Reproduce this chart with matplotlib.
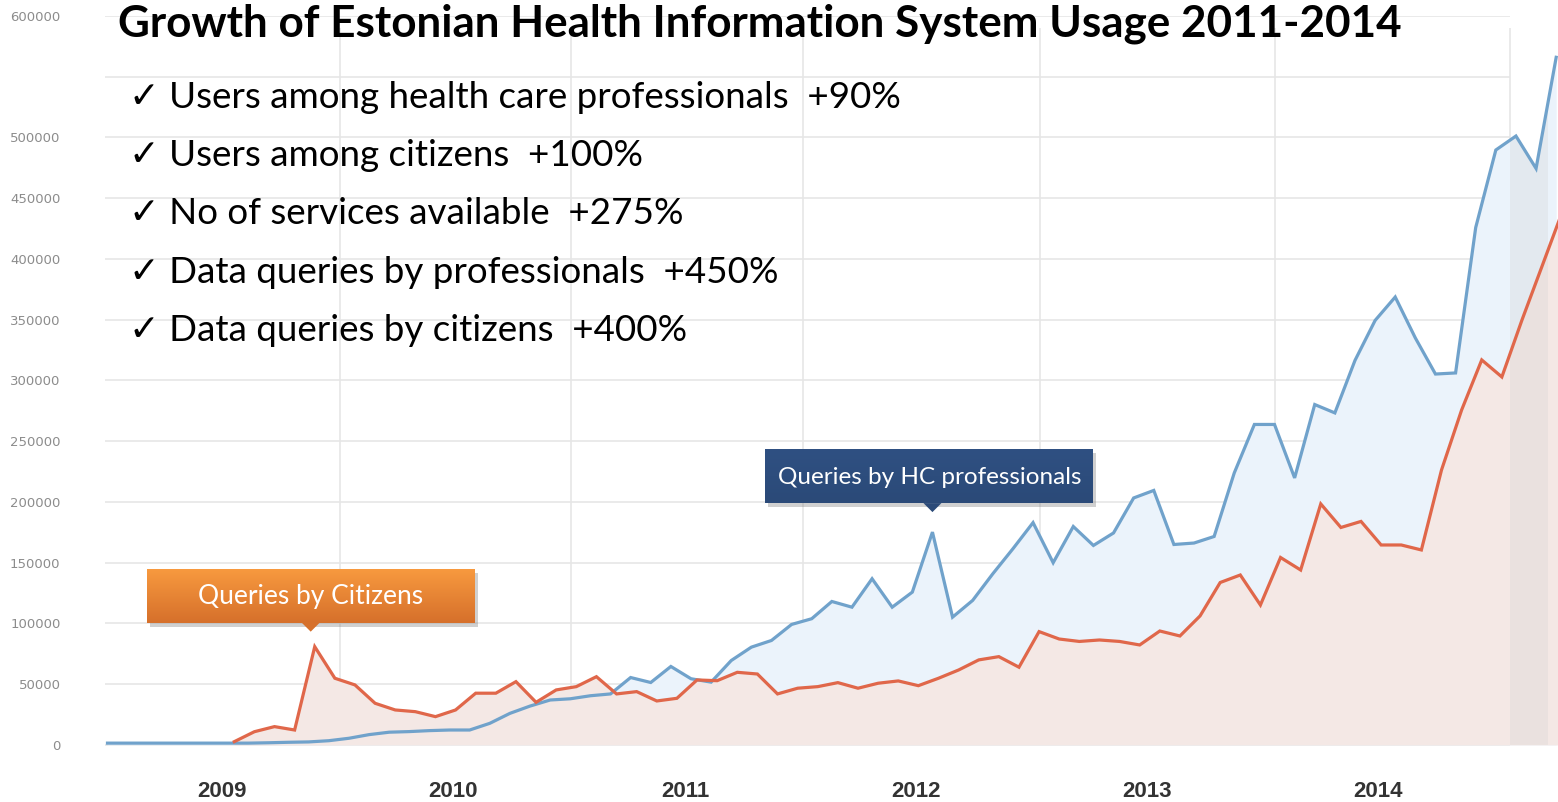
import numpy as np
import matplotlib
matplotlib.use("Agg")
import matplotlib.pyplot as plt
from matplotlib.patches import Rectangle, Polygon
from matplotlib.colors import LinearSegmentedColormap

W, H = 1558, 802

title = "Growth of Estonian Health Information System Usage 2011-2014"
bullets = [
    "Users among health care professionals  +90%",
    "Users among citizens  +100%",
    "No of services available  +275%",
    "Data queries by professionals  +450%",
    "Data queries by citizens  +400%",
]
years = ["2009", "2010", "2011", "2012", "2013", "2014"]
y_ticks = [0, 50000, 100000, 150000, 200000, 250000, 300000,
           350000, 400000, 450000, 500000, 550000, 600000]
y_labels = ["0", "50000", "100000", "150000", "200000", "250000", "300000",
            "350000", "400000", "450000", "500000", "", "600000"]

# queries by health care professionals, one value per period
prof_queries = [1500, 1500, 1500, 1500, 1500, 1500, 1500, 1500, 1800, 2200,
                2500, 3500, 5500, 8500, 10500, 11000, 11800, 12300, 12300, 17800,
                26000, 32000, 37000, 38000, 40500, 42000, 55500, 51400, 64600, 54500,
                51700, 69500, 80500, 86000, 99200, 103900, 118100, 113400, 136800, 113400,
                125800, 175200, 105200, 119000, 140900, 161500, 183000, 150000, 179800, 164200,
                174500, 203300, 209500, 165000, 166200, 171600, 223900, 263800, 263800, 219800,
                280200, 273300, 316500, 349400, 368700, 335000, 305300, 306200, 425900, 489700,
                501200, 474500, 566000]

# queries by citizens, first reported in period 6
citizen_start = 6
citizen_queries = [2700, 10900, 15100, 12300, 80900, 54900, 49400, 34300, 28800, 27400,
                   23300, 28800, 42600, 42600, 52100, 35100, 45300, 48000, 56200, 42000,
                   43900, 36200, 38400, 53500, 52900, 59800, 58400, 42000, 46700, 48000,
                   51300, 46700, 50800, 52700, 48800, 54900, 61700, 70000, 72700, 64000,
                   93300, 87200, 85200, 86400, 85200, 82300, 93800, 89700, 106200, 133700,
                   139900, 115200, 154300, 144000, 198400, 179000, 184000, 164600, 164600, 160500,
                   226300, 275700, 316900, 302900, 349800, 394200, 438700]

# where the year labels and year boundaries sit on the period axis
year_centres = [5.69, 17.17, 28.7, 40.18, 51.66, 63.15]
year_edges = [11.55, 23.03, 34.57, 46.35, 58.03, 69.7]

x_prof = np.arange(len(prof_queries))
x_cit = np.arange(citizen_start, citizen_start + len(citizen_queries)) + 0.3

fig = plt.figure(figsize=(W / 100, H / 100), dpi=100)
ax = fig.add_axes([105 / W, 53.4 / H, 1 - 105 / W, 732.6 / H])
ax.set_xlim(-0.124, 72.09)
ax.set_ylim(-3000, 600000)

for s in ax.spines.values():
    s.set_visible(False)

ax.hlines(y_ticks, -0.124, year_edges[-1], color="#e8e8e8", lw=1.3, zorder=0)
ax.vlines(year_edges, 0, 590000, color="#e6e6e6", lw=1.2, zorder=0)

blue_area = ax.fill_between(x_prof, prof_queries, color="#ebf3fb", lw=0, zorder=1)
ax.fill_between(x_cit, citizen_queries, color="#f4e8e5", lw=0, zorder=1.2)

# slightly greyed last (incomplete) period, only under the curve
band = ax.axvspan(year_edges[-1], 71.6, color="#cfcfcf", alpha=0.25, lw=0, zorder=1.5)
band.set_clip_path(blue_area.get_paths()[0], ax.transData)

ax.plot(x_prof, prof_queries, color="#70a2cb", lw=2.3, zorder=3, solid_joinstyle="miter")
ax.plot(x_cit, citizen_queries, color="#e0674a", lw=2.3, zorder=3.2, solid_joinstyle="miter")

ax.set_yticks(y_ticks, y_labels)
ax.tick_params(axis="y", length=0, pad=32, labelsize=9.5, labelcolor="#8c8c8c")
ax.set_xticks(year_centres, years)
ax.tick_params(axis="x", length=0, pad=23, labelsize=16, labelcolor="#333333")
for lab in ax.get_xticklabels():
    lab.set_fontweight("bold")
    lab.set_family("Liberation Sans")

fig.text(118 / W, 1 - 36 / H, title, fontsize=31.7, fontweight="bold",
         family="Lato", color="black", va="baseline", ha="left")

baselines = [108, 166, 224, 283, 341]
for txt, yb in zip(bullets, baselines):
    fig.text(129 / W, 1 - yb / H, "\u2713 " + txt, fontsize=26.5,
             family=["Lato", "DejaVu Sans"], color="black", va="baseline", ha="left")


def callout(x, y, text, top_col, bot_col, gap, size, dx):
    # box centred over the data point (x, y), small pointer underneath
    px, py = ax.transData.transform((x, y))
    bw, bh, tri = 328, 54, 9
    left = px + dx - bw / 2
    bottom = py + gap + tri
    shadow = Rectangle(((left + 3) / W, (bottom - 4) / H), bw / W, bh / H,
                       transform=fig.transFigure, color="#666666", alpha=0.3,
                       lw=0, zorder=2)
    fig.add_artist(shadow)
    bax = fig.add_axes([left / W, bottom / H, bw / W, bh / H], zorder=3)
    cmap = LinearSegmentedColormap.from_list("grad", [bot_col, top_col])
    bax.imshow(np.linspace(0, 1, 50).reshape(-1, 1), cmap=cmap, aspect="auto",
               origin="lower", extent=[0, 1, 0, 1])
    bax.set_xlim(0, 1)
    bax.set_ylim(0, 1)
    bax.axis("off")
    bax.text(0.5, 0.48, text, color="white", fontsize=size, family="Lato",
             ha="center", va="center")
    arrow = Polygon([((px - tri) / W, bottom / H), ((px + tri) / W, bottom / H),
                     (px / W, (bottom - tri) / H)], closed=True,
                    transform=fig.transFigure, color=bot_col, lw=0, zorder=4)
    fig.add_artist(arrow)


peak_cit = int(np.argmax(citizen_queries[:20]))
callout(x_cit[peak_cit] - 0.2, citizen_queries[peak_cit], "Queries by Citizens",
        "#f89a3f", "#d6702b", 15, 19, 0)
peak_prof = int(np.argmax(prof_queries[:45]))
callout(x_prof[peak_prof], prof_queries[peak_prof], "Queries by HC professionals",
        "#2f5082", "#2b4a78", 20, 17.5, -3)

fig.savefig("out.png", dpi=100)
